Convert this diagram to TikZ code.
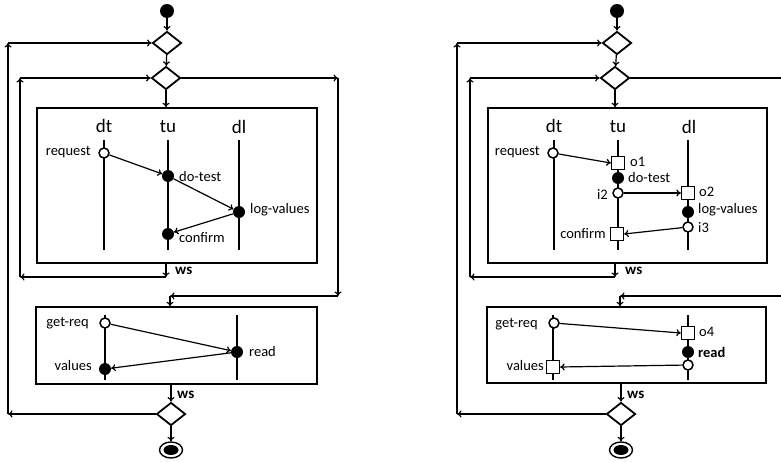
\documentclass[tikz,border=0pt]{standalone}
\usepackage{fontspec}
\setmainfont{Carlito}
\usetikzlibrary{shapes.geometric,arrows.meta}
\tikzset{
 arr/.style={-{To[length=4.5pt,width=7pt]}, line width=1.2pt},
 dec/.style={draw, diamond, line width=1.8pt, minimum width=29pt, minimum height=23pt, inner sep=0pt},
 startnode/.style={circle, fill=black, minimum size=14pt, inner sep=0pt},
 frame/.style={draw, line width=1.5pt, inner sep=0pt},
 life/.style={line width=2.2pt},
 opencirc/.style={circle, draw, fill=white, line width=1.5pt, minimum size=10pt, inner sep=0pt},
 fillcirc/.style={circle, fill=black, minimum size=12pt, inner sep=0pt},
 port/.style={draw, fill=white, line width=1.3pt, minimum size=13pt, inner sep=0pt},
 lbl/.style={font=\fontsize{14.5}{16}\selectfont, inner sep=1pt},
 head/.style={font=\fontsize{19}{22}\selectfont, inner sep=0pt},
 wsl/.style={font=\fontsize{15}{17}\selectfont\bfseries, inner sep=0pt},
 endnode/.style={ellipse, draw, line width=1.4pt, minimum width=23pt, minimum height=16pt, inner sep=0pt},
}
\begin{document}
\begin{tikzpicture}[x=1pt,y=-1pt]
\clip (0,0) rectangle (781,462);
%%%%%%%%%%%%%%%% LEFT DIAGRAM
\node[startnode] (sL) at (167,11) {};
\node[dec] (d1L) at (167,43) {};
\node[dec] (d2L) at (166,78) {};
\node[frame, minimum width=280pt, minimum height=155pt] (b1L) at (177,185.5) {};
\draw[arr] (sL) -- (d1L);
\draw[arr] (d1L) -- (d2L);
\draw[arr] (d2L.south) -- (d2L.south |- b1L.north);
% lifelines
\coordinate (dtTL) at (104,140); \coordinate (dtBL) at (104,250);
\coordinate (tuTL) at (168,140); \coordinate (tuBL) at (168,250);
\coordinate (dlTL) at (239,140); \coordinate (dlBL) at (239,250);
\draw[life] (dtTL) -- (dtBL);
\draw[life] (tuTL) -- (tuBL);
\draw[life] (dlTL) -- (dlBL);
\node[head] (hdtL) at (104,126) {dt};
\node[head] (htuL) at (168,127) {tu};
\node[head] (hdlL) at (239,127) {dl};
\node[opencirc] (reqL) at (104,153) {};
\node[fillcirc] (dotL) at (168,176) {};
\node[fillcirc] (logL) at (239,212) {};
\node[fillcirc] (conL) at (168,234) {};
\node[lbl, anchor=east] (lreqL) at (92,152) {request};
\node[lbl, anchor=west] (ldotL) at (178,177) {do-test};
\node[lbl, anchor=west] (llogL) at (249,210) {log-values};
\node[lbl, anchor=west] (lconL) at (178,238) {confirm};
\draw[arr] (reqL) -- (dotL);
\draw[arr] (dotL) -- (logL);
\draw[arr] (logL) -- (conL);
% ws loop
\coordinate (w1L) at (166,277);
\coordinate (c1L) at (20,277);
\coordinate (c2L) at (20,78);
\draw[arr] (w1L |- b1L.south) -- (w1L);
\node[wsl, anchor=west] (ws1L) at (175,271) {ws};
\draw[arr] (w1L) -- (c1L);
\draw[arr] (c1L) -- (c2L);
\draw[arr] (c2L) -- (d2L.west);
% right branch
\node[frame, minimum width=281pt, minimum height=77pt] (b2L) at (176.5,345.5) {};
\coordinate (r1L) at (338,78);
\coordinate (r2L) at (338,296);
\coordinate (jL) at (170,296);
\draw[arr] (d2L.east) -- (r1L);
\draw[arr] (r1L) -- (r2L);
\draw[arr] (r2L) -- (jL);
\draw[arr] (jL) -- (jL |- b2L.north);
% box 2
\coordinate (aTL) at (105,315); \coordinate (aBL) at (105,380);
\coordinate (bTL) at (237,315); \coordinate (bBL) at (237,380);
\draw[life] (aTL) -- (aBL);
\draw[life] (bTL) -- (bBL);
\node[opencirc] (grL) at (105,323) {};
\node[fillcirc] (rdL) at (237,352) {};
\node[fillcirc] (valL) at (105,369) {};
\node[lbl, anchor=east] (lgrL) at (90,323) {get-req};
\node[lbl, anchor=west] (lrdL) at (248,352) {read};
\node[lbl, anchor=east] (lvalL) at (93,366) {values};
\draw[arr] (grL) -- (rdL);
\draw[arr] (rdL) -- (valL);
% bottom
\node[dec] (d3L) at (171,414) {};
\draw[arr] (b2L.south -| d3L) -- (d3L.north);
\node[wsl, anchor=west] (ws2L) at (177,395) {ws};
\coordinate (o1L) at (8,414);
\coordinate (o2L) at (8,43);
\draw[arr] (d3L.west) -- (o1L);
\draw[arr] (o1L) -- (o2L);
\draw[arr] (o2L) -- (d1L.west);
\node[endnode] (eL) at (171,450) {};
\fill (eL.center) ellipse (7.5pt and 5pt);
\draw[arr] (d3L.south) -- (eL.north);
%%%%%%%%%%%%%%%% RIGHT DIAGRAM
\node[startnode] (sR) at (617,11) {};
\node[dec] (d1R) at (617,43) {};
\node[dec] (d2R) at (615,78) {};
\node[frame, minimum width=279pt, minimum height=155pt] (b1R) at (627.5,185.5) {};
\draw[arr] (sR) -- (d1R);
\draw[arr] (d1R) -- (d2R);
\draw[arr] (d2R.south) -- (d2R.south |- b1R.north);
\coordinate (dtTR) at (554,140); \coordinate (dtBR) at (554,250);
\coordinate (tuTR) at (618,140); \coordinate (tuBR) at (618,250);
\coordinate (dlTR) at (688,140); \coordinate (dlBR) at (688,250);
\draw[life] (dtTR) -- (dtBR);
\draw[life] (tuTR) -- (tuBR);
\draw[life] (dlTR) -- (dlBR);
\node[head] (hdtR) at (554,126) {dt};
\node[head] (htuR) at (618,127) {tu};
\node[head] (hdlR) at (689,127) {dl};
\node[opencirc] (reqR) at (553,153) {};
\node[port] (o1R) at (618,163) {};
\node[fillcirc] (dotR) at (618,178) {};
\node[opencirc] (i2R) at (618,193) {};
\node[port] (o2R) at (688,193) {};
\node[fillcirc] (logR) at (688,212) {};
\node[opencirc] (i3R) at (688,227) {};
\node[port] (conR) at (617,234) {};
\node[lbl, anchor=east] (lreqR) at (541,152) {request};
\node[lbl, anchor=west] (lo1R) at (629,162) {o1};
\node[lbl, anchor=west] (ldotR) at (627,178) {do-test};
\node[lbl, anchor=east] (li2R) at (609,195) {i2};
\node[lbl, anchor=west] (lo2R) at (698,192) {o2};
\node[lbl, anchor=west] (llogR) at (697,210) {log-values};
\node[lbl, anchor=west] (li3R) at (697,228) {i3};
\node[lbl, anchor=east] (lconR) at (607,234) {confirm};
\draw[arr] (reqR) -- (o1R.west);
\draw[arr] (i2R) -- (o2R.west);
\draw[arr] (i3R) -- (conR.east);
\coordinate (w1R) at (615,277);
\coordinate (c1R) at (470,277);
\coordinate (c2R) at (470,78);
\draw[arr] (w1R |- b1R.south) -- (w1R);
\node[wsl, anchor=west] (ws1R) at (625,271) {ws};
\draw[arr] (w1R) -- (c1R);
\draw[arr] (c1R) -- (c2R);
\draw[arr] (c2R) -- (d2R.west);
\node[frame, minimum width=279pt, minimum height=76pt] (b2R) at (626.5,345) {};
\coordinate (r1R) at (788,78);
\coordinate (r2R) at (788,296);
\coordinate (jR) at (620,296);
\draw[arr] (d2R.east) -- (r1R);
\draw[arr] (r1R) -- (r2R);
\draw[arr] (r2R) -- (jR);
\draw[arr] (jR) -- (jR |- b2R.north);
\coordinate (aTR) at (553,315); \coordinate (aBR) at (553,380);
\coordinate (bTR) at (688,315); \coordinate (bBR) at (688,380);
\draw[life] (aTR) -- (aBR);
\draw[life] (bTR) -- (bBR);
\node[opencirc] (grR) at (554,323) {};
\node[port] (o4R) at (688,333) {};
\node[fillcirc] (rdR) at (688,352) {};
\node[opencirc] (i4R) at (688,365) {};
\node[port] (valR) at (553,367) {};
\node[lbl, anchor=east] (lgrR) at (539,324) {get-req};
\node[lbl, anchor=west] (lo4R) at (698,332) {o4};
\node[lbl, anchor=west, font=\fontsize{14.5}{16}\selectfont\bfseries] (lrdR) at (697,352) {read};
\node[lbl, anchor=east] (lvalR) at (545,366) {values};
\draw[arr] (grR) -- (o4R.west);
\draw[arr] (i4R) -- (valR.east);
\node[dec] (d3R) at (621,414) {};
\draw[arr] (b2R.south -| d3R) -- (d3R.north);
\node[wsl, anchor=west] (ws2R) at (627,395) {ws};
\coordinate (o1Rc) at (457,414);
\coordinate (o2Rc) at (457,43);
\draw[arr] (d3R.west) -- (o1Rc);
\draw[arr] (o1Rc) -- (o2Rc);
\draw[arr] (o2Rc) -- (d1R.west);
\node[endnode] (eR) at (621,450) {};
\fill (eR.center) ellipse (7.5pt and 5pt);
\draw[arr] (d3R.south) -- (eR.north);
\end{tikzpicture}
\end{document}
